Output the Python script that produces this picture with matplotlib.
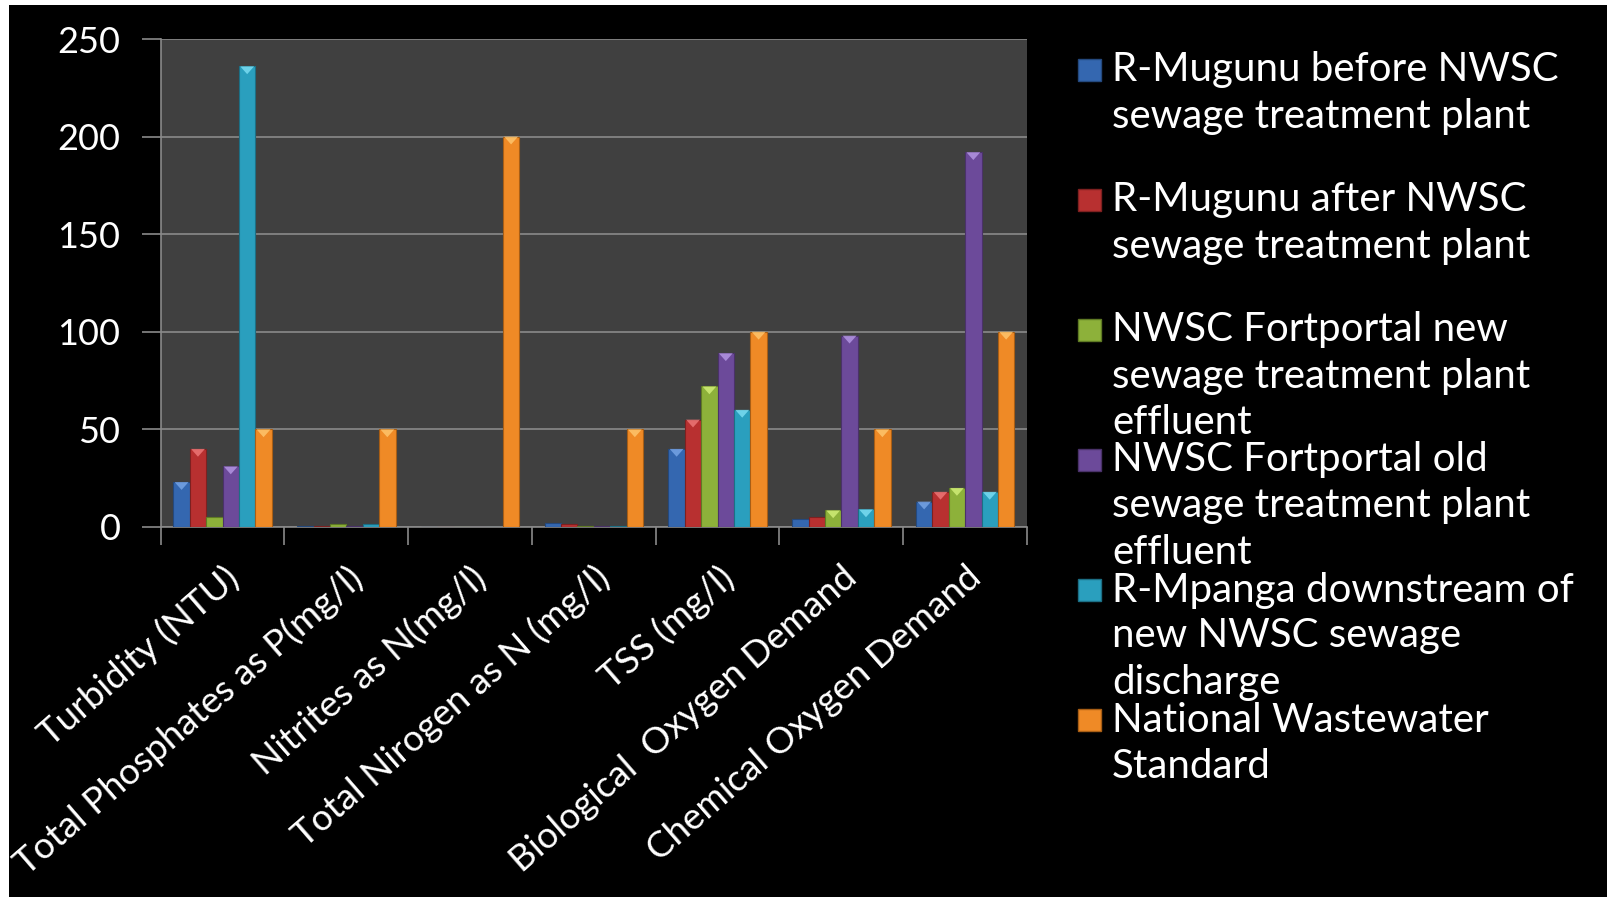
import matplotlib
matplotlib.use('Agg')
import matplotlib.pyplot as plt
import numpy as np
from matplotlib.patches import Rectangle, Polygon

plt.rcParams['font.family'] = ['Lato', 'DejaVu Sans']

categories = ['Turbidity (NTU)', 'Total Phosphates as P(mg/l)', 'Nitrites as N(mg/l)',
              'Total Nirogen as N (mg/l)', 'TSS (mg/l)', 'Biological  Oxygen Demand',
              'Chemical Oxygen Demand']

series_names = ['R-Mugunu before NWSC\nsewage treatment plant',
                'R-Mugunu after NWSC\nsewage treatment plant',
                'NWSC Fortportal new\nsewage treatment plant\neffluent',
                'NWSC Fortportal old\nsewage treatment plant\neffluent',
                'R-Mpanga downstream of\nnew NWSC sewage\ndischarge',
                'National Wastewater\nStandard']

mugunu_before = [23, 0.3, 0.02, 2.1, 40, 4, 13]
mugunu_after = [40, 0.3, 0.02, 1.4, 55, 5, 18]
fortportal_new = [5, 1.5, 0.02, 0.5, 72, 8.5, 20]
fortportal_old = [31, 0.5, 0.02, 0.5, 89, 98, 192]
mpanga_down = [236, 1.3, 0.02, 0.3, 60, 9, 18]
national_std = [50, 50, 200, 50, 100, 50, 100]

series = [mugunu_before, mugunu_after, fortportal_new, fortportal_old, mpanga_down, national_std]
colors = ['#3467b0', '#b83030', '#8db13a', '#6c4a9a', '#2a9fbe', '#ef8a26']
edges = ['#24497e', '#7e2020', '#5f7a24', '#4a3269', '#1c6f85', '#a85e15']
tops = ['#7aa7e8', '#f07a7a', '#d4f07a', '#b79ae6', '#7fe0f5', '#ffc870']

fig = plt.figure(figsize=(16.1, 8.97), dpi=100, facecolor='white')
# black slide background with thin white margin top/left
fig.patches.append(Rectangle((9 / 1610, 0), 1598 / 1610, 892 / 897,
                             transform=fig.transFigure, facecolor='black',
                             edgecolor='none', zorder=-10))

ax = fig.add_axes([0.0998, 0.4125, 0.5381, 0.544])
ax.set_facecolor('#404040')

x = np.arange(len(categories))
w = 0.1325
tri_h = 4.0  # bevel height in data units
for i, vals in enumerate(series):
    xs = x + (i - 2.5) * w
    ax.bar(xs, vals, width=w, color=colors[i], edgecolor=edges[i],
           linewidth=0.8, zorder=3)
    # light bevel at the top of each bar
    for xc, v in zip(xs, vals):
        if v > tri_h * 1.5:
            ax.add_patch(Polygon([(xc - w / 2 + 0.01, v), (xc + w / 2 - 0.01, v),
                                  (xc, v - tri_h)], closed=True, facecolor=tops[i],
                                 edgecolor='none', alpha=0.8, zorder=4))

ax.set_xlim(-0.5, len(categories) - 0.5)
ax.set_ylim(0, 250)
ax.set_yticks([0, 50, 100, 150, 200, 250])
ax.grid(axis='y', color='#8a8a8a', linewidth=1.2, zorder=0)

for s in ['top', 'right']:
    ax.spines[s].set_visible(False)
for s in ['left', 'bottom']:
    ax.spines[s].set_color('#8a8a8a')
    ax.spines[s].set_linewidth(1.2)

ax.tick_params(axis='y', colors='#8a8a8a', length=14, width=1.2, labelcolor='white',
               labelsize=26, pad=15)
ax.set_xticks(x)
ax.set_xticklabels(categories, rotation=41, ha='right', rotation_mode='anchor',
                   color='white', fontsize=26.5)
ax.tick_params(axis='x', length=0, pad=24)
ax.set_xticks(np.arange(-0.5, len(categories) + 0.5, 1), minor=True)
ax.tick_params(axis='x', which='minor', length=13, width=1.2, color='#8a8a8a')

# legend drawn by hand, entries at fixed spacing like the original
for i, name in enumerate(series_names):
    ytop = 70 + 130 * i
    fig.patches.append(Rectangle((1078 / 1610, 1 - (ytop + 11) / 897), 23 / 1610, 22 / 897,
                                 transform=fig.transFigure, facecolor=colors[i],
                                 edgecolor=edges[i], linewidth=1))
    for j, line in enumerate(name.split('\n')):
        fig.text(1112 / 1610, 1 - (ytop + 46 * j) / 897, line, color='white',
                 fontsize=29, va='center', ha='left')

fig.savefig('out.png', dpi=100, facecolor=fig.get_facecolor())
